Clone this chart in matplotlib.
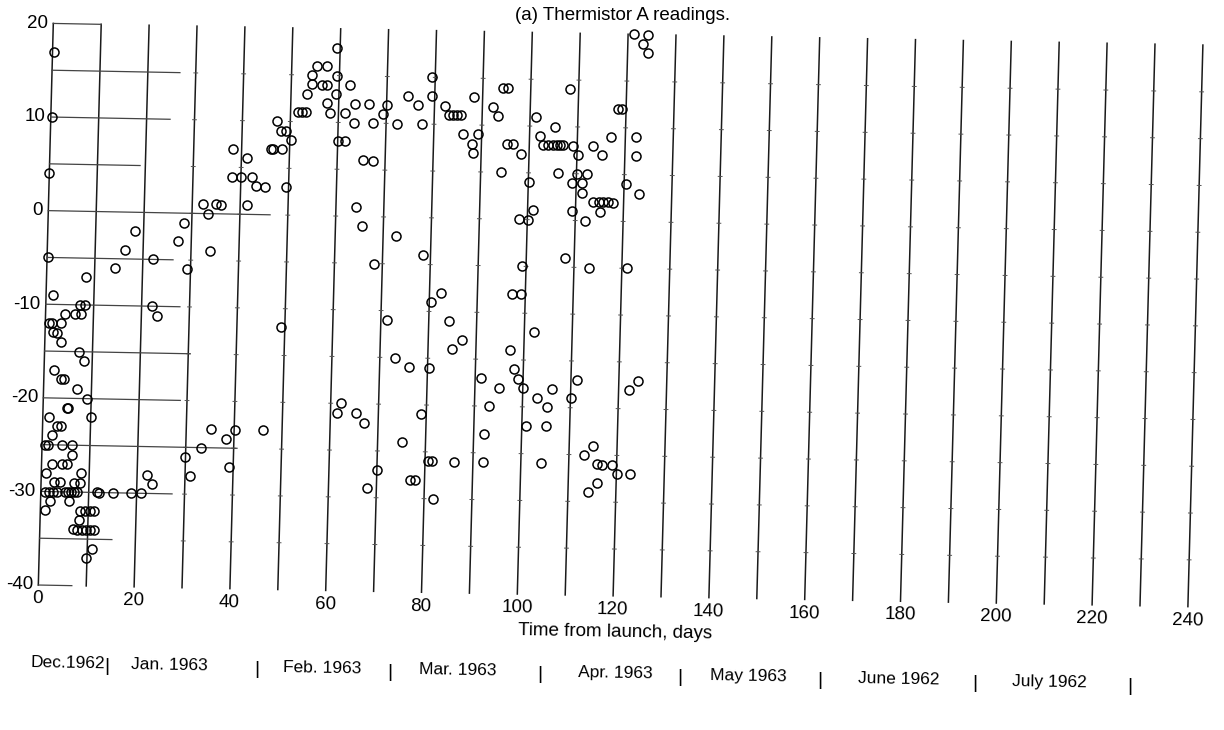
import matplotlib
matplotlib.use("Agg")
import matplotlib.pyplot as plt
from matplotlib import font_manager
from matplotlib.transforms import Affine2D

# thermistor A readings, (day from launch, temperature C), grouped by month
dec_readings = [
    (0.3, 17), (0.3, 10), (0.0, 4), (0.2, -5), (14.3, -6), (8.2, -7),
    (1.5, -9), (7.2, -10), (8.2, -10), (4.1, -11), (6.2, -11), (7.4, -11),
    (0.8, -12), (1.4, -12), (3.3, -12), (1.6, -13), (2.5, -13), (3.4, -14),
    (7.2, -15), (8.3, -16), (2.1, -17), (3.6, -18), (4.2, -18), (7.0, -19),
    (9.1, -20), (5.0, -21), (5.2, -21), (1.3, -22), (10.1, -22), (3.0, -23),
    (3.9, -23), (2.0, -24), (0.6, -25), (1.3, -25), (4.2, -25), (6.3, -25),
    (6.3, -26), (2.2, -27), (4.3, -27), (5.3, -27), (1.0, -28), (8.3, -28),
    (2.7, -29), (4.0, -29), (6.9, -29), (8.1, -29),
    (0.9, -30), (1.7, -30), (2.6, -30), (3.4, -30), (5.1, -30), (5.7, -30),
    (6.3, -30), (7.0, -30), (7.6, -30), (11.8, -30), (12.2, -30),
    (2.0, -31), (6.0, -31), (1.0, -32), (8.3, -32), (9.4, -32), (10.4, -32),
    (11.2, -32), (8.1, -33), (7.0, -34), (7.8, -34), (8.8, -34), (9.7, -34),
    (10.5, -34), (11.3, -34), (11.0, -36), (9.8, -37),
]
jan_readings = [
    (15.1, -30), (18.8, -30), (20.9, -30), (22.1, -28), (23.2, -29),
    (16.2, -4), (22.2, -5), (18.2, -2), (22.2, -10), (23.3, -11),
    (27.2, -3), (28.4, -1), (29.3, -6), (32.3, 1), (33.4, 0), (33.9, -4),
    (35.0, 1), (36.0, 1), (41.4, 1), (29.9, -26), (31.1, -28), (33.2, -25),
    (35.2, -23), (38.4, -24), (39.2, -27), (40.2, -23), (38.2, 7), (41.2, 6),
    (38.2, 4), (40.1, 4), (42.4, 4), (43.2, 3), (45.1, 3),
]
feb_readings = [
    (46.1, -23), (46.2, 7), (46.6, 7), (48.5, 7), (49.5, 3), (47.3, 10),
    (48.1, 9), (49.2, 9), (50.3, 8), (49.2, -12), (51.6, 11), (52.4, 11),
    (53.3, 11), (53.4, 13), (54.3, 15), (54.4, 14), (55.3, 16), (56.5, 14),
    (57.4, 16), (57.5, 14), (57.6, 12), (58.3, 11), (59.4, 18), (59.5, 15),
    (59.4, 13), (60.1, 8), (61.6, 8), (61.4, 11), (62.3, 14), (63.3, 10),
    (63.4, 12), (64.2, 1), (65.5, -1), (65.4, 6), (67.5, 6), (66.4, 12),
    (67.3, 10), (69.3, 11), (70.1, 12), (72.3, 10), (72.7, -2), (68.3, -5),
    (71.3, -11), (73.2, -15), (61.4, -21), (62.2, -20), (65.4, -21),
    (67.1, -22), (70.1, -27), (68.1, -29),
]
mar_readings = [
    (74.5, 13), (76.6, 12), (77.5, 10), (75.1, -24), (76.2, -16), (77.0, -28),
    (78.1, -28), (78.5, -4), (79.0, -21), (79.4, 15), (79.5, 13), (80.4, -9),
    (80.4, -16), (80.7, -26), (81.5, -26), (81.9, -30), (82.4, -8), (82.2, 12),
    (83.1, 11), (84.0, 11), (84.8, 11), (85.6, 11), (84.3, -11), (85.1, -14),
    (86.1, -26), (87.1, -13), (86.2, 9), (88.2, 13), (88.1, 8), (88.3, 7),
    (89.3, 9), (91.3, -17), (92.2, -23), (92.2, -26), (93.1, -20), (95.1, -18),
    (92.3, 12), (93.4, 11), (94.3, 14), (95.3, 14), (94.3, 5), (95.4, 8),
    (96.5, 8), (98.4, 7), (97.2, -14), (98.1, -16), (99.0, -17), (100.1, -18),
    (100.9, -22), (102.1, -12), (103.1, -19), (104.3, -26), (105.1, -22),
    (97.3, -8), (99.2, -8), (98.3, 0), (100.2, 0), (101.2, 1), (100.2, 4),
    (99.2, -5), (101.3, 11), (102.2, 9), (102.9, 8), (104.0, 8), (105.0, 8),
]
apr_readings = [
    (105.3, 10), (105.8, 8), (106.5, 8), (107.1, 8), (109.2, 8), (108.2, 14),
    (106.2, 5), (110.3, 7), (110.2, 5), (112.2, 5), (109.2, 4), (111.3, 4),
    (111.3, 3), (109.3, 1), (112.1, 0), (113.4, 8), (115.3, 7), (117.1, 9),
    (113.7, 2), (114.9, 2), (115.8, 2), (116.8, 2), (117.8, 2), (115.2, 1),
    (118.4, 12), (119.2, 12), (122.3, 9), (122.4, 7), (120.3, 4), (123.2, 3),
    (121.3, 20), (124.2, 20), (123.2, 19), (124.3, 18), (108.1, -4),
    (113.2, -5), (121.1, -5), (105.2, -20), (106.2, -18), (110.2, -19),
    (111.3, -17), (113.2, -25), (115.0, -24), (116.0, -26), (117.0, -26),
    (119.1, -26), (114.1, -29), (116.1, -28), (120.2, -27), (122.9, -27),
    (122.2, -18), (124.1, -17),
]

x_ticks = list(range(0, 241, 20))
y_ticks = [20, 10, 0, -10, -20, -30, -40]
# how far each horizontal guide line runs (days), by temperature level
hline_levels = [20, 15, 10, 5, 0, -5, -10, -15, -20, -25, -30, -35, -40]
hline_ends = [10, 26.7, 24.9, 18.9, 46.3, 26.3, 28, 30.4, 28.6, 40.7, 27.4, 15.1, 7]
months = ["Dec.1962", "Jan. 1963", "Feb. 1963", "Mar. 1963", "Apr. 1963",
          "May 1963", "June 1962", "July 1962"]
month_label_days = [6.6, 27.7, 59.7, 88.1, 120.9, 148.6, 180.1, 211.5]
month_ends = [14.8, 46.1, 73.9, 105.2, 134.4, 163.7, 196.0, 228.4]

names = {f.name for f in font_manager.fontManager.ttflist}
font = "Liberation Sans" if "Liberation Sans" in names else "DejaVu Sans"

fig = plt.figure(figsize=(12.24, 7.30), dpi=100)
ax = fig.add_axes([0.0313, 0.1986, 0.9392, 0.7693])
ax.set_xlim(0, 240)
ax.set_ylim(-40, 20)
ax.axis("off")

# the scanned page is a bit skewed / rotated, mimic that
xl, yb = ax.transAxes.transform((0, 0))
scan = (Affine2D().translate(-xl, -yb)
        + Affine2D.from_values(1, -0.0188, 0.0267, 1, 0, 0)
        + Affine2D().translate(xl, yb))
tr = ax.transData + scan

# vertical grid lines every 10 days
for d in range(0, 241, 10):
    ax.plot([d, d], [-40, 20], color="#1a1a1a", lw=1.1, transform=tr, clip_on=False)
    if d >= 30:
        for lv in range(-35, 20, 5):
            ax.plot([d - 0.4, d + 0.4], [lv, lv], color="#555555", lw=0.7,
                    transform=tr, clip_on=False)

for lv, end in zip(hline_levels, hline_ends):
    ax.plot([0, end], [lv, lv], color="#444444", lw=0.9, transform=tr, clip_on=False)

for group in [dec_readings, jan_readings, feb_readings, mar_readings, apr_readings]:
    days = [p[0] for p in group]
    temps = [p[1] for p in group]
    ax.plot(days, temps, "o", ms=6.5, mfc="none", mec="black", mew=1.1,
            transform=tr, clip_on=False)

for t in x_ticks:
    ax.text(t, -41.5, str(t), transform=tr, ha="center", va="center",
            fontsize=13.5, family=font, rotation=-1)
for t in y_ticks:
    ax.text(-1.1, t, str(t), transform=tr, ha="right", va="center",
            fontsize=13.5, family=font)

fig.text(623 / 1224, 1 - 20 / 730, "(a) Thermistor A readings.", ha="center",
         va="baseline", fontsize=13.5, family=font)
fig.text(615 / 1224, 1 - 632 / 730, "Time from launch, days", ha="center",
         va="center", fontsize=13.5, family=font, rotation=-1)

for name, mid, end in zip(months, month_label_days, month_ends):
    ax.text(mid, -48.3, name, transform=tr, ha="center", va="center",
            fontsize=12.5, family=font, rotation=-1)
    ax.text(end, -48.6, "|", transform=tr, ha="center", va="center",
            fontsize=14, family=font)

fig.savefig("out.png", dpi=100)
